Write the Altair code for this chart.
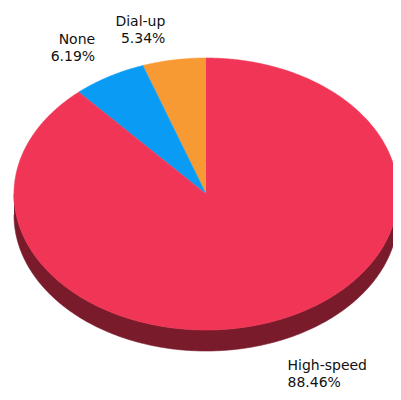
import math
import altair as alt
import pandas as pd

# ---- data ----
categories = ["Dial-up", "None", "High-speed"]
shares = [5.34, 6.19, 88.46]
label_text = ["Dial-up\n5.34%", "None\n6.19%", "High-speed\n88.46%"]

# ---- styles ----
slice_colors = ["#F89A33", "#0A9BF5", "#F03556"]
side_color = "#7A1B2B"

# ---- layout (chart pixel units) ----
W, H = 385, 384
CX, CY, RX, RY, DEPTH = 198, 186, 192, 136, 21


def ell(phi_deg, scale=1.0, dy=0.0):
    a = math.radians(phi_deg)
    return CX - scale * RX * math.sin(a), CY - scale * RY * math.cos(a) + dy


rows = []
# side wall (front half of the tilted disc)
side = [ell(p) for p in range(90, 271)] + [ell(p, dy=DEPTH) for p in range(270, 89, -1)]
for i, (x, y) in enumerate(side):
    rows.append({"part": "side", "poly": "side", "i": i, "x": x, "y": y})

total = sum(shares)
start = 0.0
labels = []
for cat, v, lt in zip(categories, shares, label_text):
    sweep = v / total * 360.0
    n = max(2, int(sweep * 2))
    pts = [(CX, CY)] + [ell(start + sweep * k / n) for k in range(n + 1)]
    for i, (x, y) in enumerate(pts):
        rows.append({"part": cat, "poly": cat, "i": i, "x": x, "y": y})
    mid = start + sweep / 2.0
    lx, ly = ell(mid, scale=1.08)
    lower = math.cos(math.radians(mid)) < 0
    left = math.sin(math.radians(mid)) > 0
    lx = lx - 6 if left else lx + 8
    if lower:
        ly += DEPTH + 7
    else:
        ly -= 20
    labels.append({"label": lt, "x": lx, "y": ly, "pos": "lower" if lower else "upper"})
    start += sweep

df = pd.DataFrame(rows)
lab = pd.DataFrame(labels)

xs = alt.Scale(domain=[0, W], nice=False, zero=False)
ys = alt.Scale(domain=[0, H], nice=False, zero=False, reverse=True)
cscale = alt.Scale(domain=["side"] + categories, range=[side_color] + slice_colors)

polys = alt.Chart(df).mark_line(filled=True, strokeWidth=0.6, interpolate="linear").encode(
    x=alt.X("x:Q", scale=xs, axis=None),
    y=alt.Y("y:Q", scale=ys, axis=None),
    color=alt.Color("part:N", scale=cscale, legend=None),
    stroke=alt.Stroke("part:N", scale=cscale, legend=None),
    detail="poly:N",
    order="i:Q",
)

base_text = alt.Chart(lab)
t_upper = base_text.transform_filter(alt.datum.pos == "upper").mark_text(
    align="right", baseline="bottom", lineBreak="\n", font="DejaVu Sans",
    fontSize=14, lineHeight=17, color="#111111"
).encode(x=alt.X("x:Q", scale=xs), y=alt.Y("y:Q", scale=ys), text="label:N")

t_lower = base_text.transform_filter(alt.datum.pos == "lower").mark_text(
    align="left", baseline="top", lineBreak="\n", font="DejaVu Sans",
    fontSize=14, lineHeight=17, color="#111111"
).encode(x=alt.X("x:Q", scale=xs), y=alt.Y("y:Q", scale=ys), text="label:N")

chart = alt.layer(polys, t_upper, t_lower).properties(
    width=W, height=H, autosize=alt.AutoSizeParams(type="none"), padding=0
).configure_view(stroke=None)

chart.save("out.html", embed_options={"renderer": "svg", "actions": False})
